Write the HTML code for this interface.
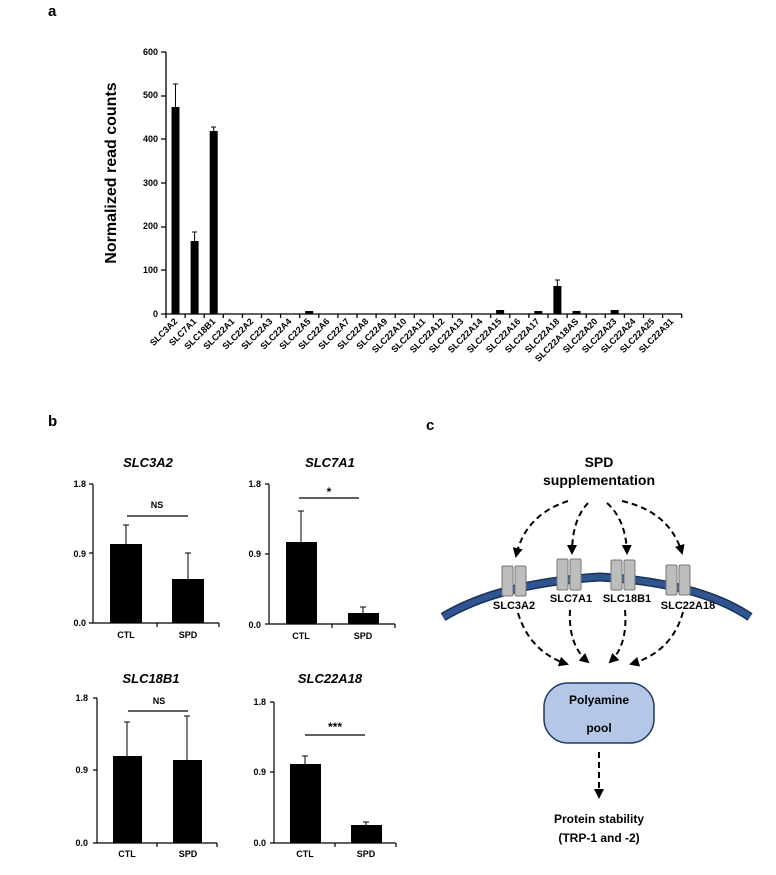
<!DOCTYPE html>
<html><head><meta charset="utf-8"><style>html,body{margin:0;padding:0;background:#fff}svg{display:block}text{font-family:"Liberation Sans",Arial,sans-serif;font-weight:bold;fill:#000}</style></head>
<body>
<svg width="776" height="875" viewBox="0 0 776 875" xmlns="http://www.w3.org/2000/svg">
<defs>
<marker id="ah" viewBox="0 0 10 10" refX="8" refY="5" markerWidth="5" markerHeight="5" orient="auto"><path d="M0,0L10,5L0,10z" fill="#000"/></marker>
</defs>
<text x="48" y="16" font-size="15">a</text>
<text x="48" y="426" font-size="15">b</text>
<text x="426" y="430" font-size="15">c</text>

<!-- Panel a -->
<g font-size="9" text-anchor="end">
<text x="158" y="55">600</text><text x="158" y="98">500</text><text x="158" y="142">400</text>
<text x="158" y="186">300</text><text x="158" y="229">200</text><text x="158" y="273">100</text><text x="158" y="317">0</text>
</g>
<text transform="translate(116,173) rotate(-90)" font-size="16" text-anchor="middle">Normalized read counts</text>
<g stroke="#000" stroke-width="1.3" fill="none">
<path d="M166,52V314H682"/>
<path d="M161,52H166M161,96H166M161,139H166M161,183H166M161,227H166M161,270H166M161,314H166"/>
<path d="M166,314v4M185.1,314v4M204.2,314v4M223.3,314v4M242.4,314v4M261.5,314v4M280.6,314v4M299.7,314v4M318.8,314v4M337.9,314v4M357,314v4M376.1,314v4M395.2,314v4M414.3,314v4M433.4,314v4M452.5,314v4M471.6,314v4M490.7,314v4M509.8,314v4M528.9,314v4M548,314v4M567.1,314v4M586.2,314v4M605.3,314v4M624.4,314v4M643.5,314v4M662.6,314v4M681.7,314v4"/>
</g>
<g fill="#000">
<rect x="171.5" y="107" width="8" height="207"/>
<rect x="190.6" y="241" width="8" height="73"/>
<rect x="209.7" y="131" width="8" height="183"/>
<rect x="305.2" y="311" width="8" height="3"/>
<rect x="496.1" y="310" width="8" height="4"/>
<rect x="534.3" y="311" width="8" height="3"/>
<rect x="553.4" y="286" width="8" height="28"/>
<rect x="572.5" y="311" width="8" height="3"/>
<rect x="610.7" y="310" width="8" height="4"/>
</g>
<g stroke="#000" stroke-width="1">
<path d="M175.5,107V84M173,84H178"/>
<path d="M194.6,241V232M192,232H197"/>
<path d="M213.7,131V127M211,127H216"/>
<path d="M557.4,286V280M555,280H560"/>
</g>
<g font-size="9" text-anchor="end">
<text transform="translate(178,322) rotate(-45)">SLC3A2</text>
<text transform="translate(197,322) rotate(-45)">SLC7A1</text>
<text transform="translate(216,322) rotate(-45)">SLC18B1</text>
<text transform="translate(235,322) rotate(-45)">SLC22A1</text>
<text transform="translate(254,322) rotate(-45)">SLC22A2</text>
<text transform="translate(273,322) rotate(-45)">SLC22A3</text>
<text transform="translate(292,322) rotate(-45)">SLC22A4</text>
<text transform="translate(311,322) rotate(-45)">SLC22A5</text>
<text transform="translate(330,322) rotate(-45)">SLC22A6</text>
<text transform="translate(350,322) rotate(-45)">SLC22A7</text>
<text transform="translate(369,322) rotate(-45)">SLC22A8</text>
<text transform="translate(388,322) rotate(-45)">SLC22A9</text>
<text transform="translate(407,322) rotate(-45)">SLC22A10</text>
<text transform="translate(426,322) rotate(-45)">SLC22A11</text>
<text transform="translate(445,322) rotate(-45)">SLC22A12</text>
<text transform="translate(464,322) rotate(-45)">SLC22A13</text>
<text transform="translate(483,322) rotate(-45)">SLC22A14</text>
<text transform="translate(502,322) rotate(-45)">SLC22A15</text>
<text transform="translate(521,322) rotate(-45)">SLC22A16</text>
<text transform="translate(540,322) rotate(-45)">SLC22A17</text>
<text transform="translate(560,322) rotate(-45)">SLC22A18</text>
<text transform="translate(579,322) rotate(-45)">SLC22A18AS</text>
<text transform="translate(598,322) rotate(-45)">SLC22A20</text>
<text transform="translate(617,322) rotate(-45)">SLC22A23</text>
<text transform="translate(636,322) rotate(-45)">SLC22A24</text>
<text transform="translate(655,322) rotate(-45)">SLC22A25</text>
<text transform="translate(674,322) rotate(-45)">SLC22A31</text>
</g>

<!-- Panel b -->
<g font-size="9" text-anchor="end">
<text x="86" y="487">1.8</text><text x="86" y="557">0.9</text><text x="86" y="626">0.0</text>
<text x="261" y="487">1.8</text><text x="261" y="557">0.9</text><text x="261" y="628">0.0</text>
<text x="88" y="701">1.8</text><text x="88" y="773">0.9</text><text x="88" y="846">0.0</text>
<text x="266" y="705">1.8</text><text x="266" y="775">0.9</text><text x="266" y="846">0.0</text>
</g>
<g font-size="13" font-style="italic" text-anchor="middle">
<text x="148" y="467">SLC3A2</text><text x="330" y="467">SLC7A1</text>
<text x="151" y="683">SLC18B1</text><text x="330" y="683">SLC22A18</text>
</g>
<g font-size="9" text-anchor="middle">
<text x="126" y="638">CTL</text><text x="188" y="638">SPD</text>
<text x="301" y="639">CTL</text><text x="363" y="639">SPD</text>
<text x="127" y="857">CTL</text><text x="188" y="857">SPD</text>
<text x="305" y="857">CTL</text><text x="366" y="857">SPD</text>
<text x="157" y="508">NS</text><text x="329" y="496" font-size="12">*</text>
<text x="159" y="704">NS</text><text x="335" y="731" font-size="12">***</text>
</g>
<g stroke="#000" stroke-width="1.2" fill="none">
<path d="M93,484V623H219M89,484H93M89,553H93M89,623H93M157,623v4M219,623v4"/>
<path d="M269,484V624H395M265,484H269M265,554H269M265,624H269M332,624v4M395,624v4"/>
<path d="M97,698V843H217M93,698H97M93,770H97M93,843H97M157,843v4M217,843v4"/>
<path d="M274,702V843H396M270,702H274M270,772H274M270,843H274M335,843v4M396,843v4"/>
<path d="M127,516H188M299,498H359M128,711H188M305,735H365"/>
</g>
<g fill="#000">
<rect x="110" y="544" width="32" height="79"/><rect x="172" y="579" width="32" height="44"/>
<rect x="286" y="542" width="31" height="82"/><rect x="348" y="613" width="31" height="11"/>
<rect x="113" y="756" width="29" height="87"/><rect x="173" y="760" width="29" height="83"/>
<rect x="290" y="764" width="31" height="79"/><rect x="351" y="825" width="31" height="18"/>
</g>
<g stroke="#000" stroke-width="1">
<path d="M126,544V525M123,525H129M188,579V553M185,553H191"/>
<path d="M301,542V511M298,511H304M363,613V607M360,607H366"/>
<path d="M127,756V722M124,722H130M187,760V716M184,716H190"/>
<path d="M305,764V756M302,756H308M366,825V822M363,822H369"/>
</g>

<!-- Panel c -->
<text x="599" y="467" font-size="14" text-anchor="middle">SPD</text>
<text x="599" y="485" font-size="14" text-anchor="middle">supplementation</text>
<g stroke="#000" stroke-width="2" stroke-dasharray="6,4" fill="none" marker-end="url(#ah)">
<path d="M568,501Q525,515 516,556"/>
<path d="M588,503Q572,520 572,553"/>
<path d="M607,503Q626,520 627,553"/>
<path d="M622,501Q670,512 682,553"/>
<path d="M518,613Q530,652 567,664"/>
<path d="M570,610Q568,645 588,662"/>
<path d="M625,610Q628,645 610,662"/>
<path d="M683,612Q672,652 631,664"/>
<path d="M599,752V797"/>
</g>
<path d="M443,617Q500,583 600,577Q700,583 750,617" stroke="#1c3156" stroke-width="9" fill="none"/>
<path d="M443,617Q500,583 600,577Q700,583 750,617" stroke="#2f5591" stroke-width="6" fill="none"/>
<g fill="#bdbdbd" stroke="#777" stroke-width="1">
<rect x="502" y="566" width="11" height="30" rx="1.5"/><rect x="515" y="566" width="11" height="30" rx="1.5"/>
<rect x="557" y="559" width="11" height="31" rx="1.5"/><rect x="570" y="559" width="11" height="31" rx="1.5"/>
<rect x="611" y="560" width="11" height="30" rx="1.5"/><rect x="624" y="560" width="11" height="30" rx="1.5"/>
<rect x="666" y="565" width="11" height="30" rx="1.5"/><rect x="679" y="565" width="11" height="30" rx="1.5"/>
</g>
<g font-size="11" text-anchor="middle">
<text x="514" y="609">SLC3A2</text><text x="571" y="602">SLC7A1</text>
<text x="627" y="602">SLC18B1</text><text x="688" y="609">SLC22A18</text>
</g>
<rect x="544" y="683" width="110" height="60" rx="24" fill="#b4c7e7" stroke="#1f3864" stroke-width="1.5"/>
<text x="599" y="704" font-size="12" text-anchor="middle">Polyamine</text>
<text x="599" y="732" font-size="12" text-anchor="middle">pool</text>
<text x="599" y="823" font-size="12" text-anchor="middle">Protein stability</text>
<text x="599" y="842" font-size="12" text-anchor="middle">(TRP-1 and -2)</text>
</svg>
</body></html>
